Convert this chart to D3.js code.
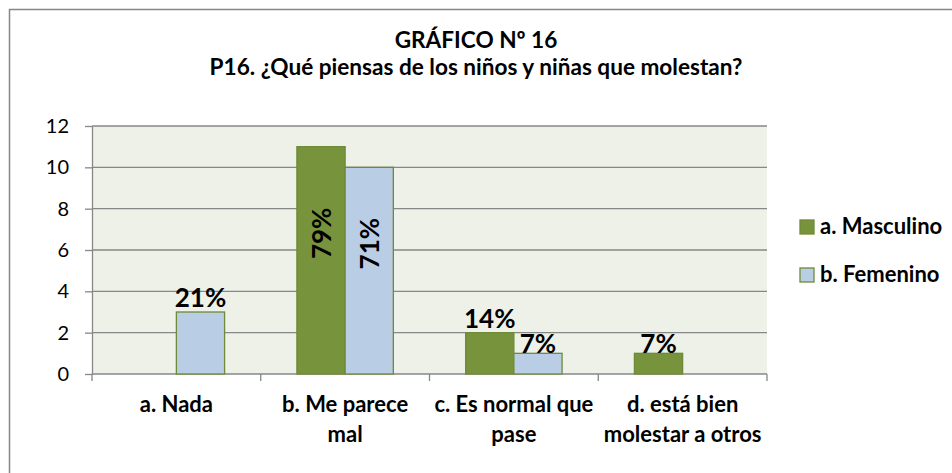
<!DOCTYPE html>
<html>
<head>
<meta charset="utf-8">
<script src="https://cdn.jsdelivr.net/npm/d3@7"></script>
<style>
  body { margin: 0; background: #fff; }
  svg { display: block; font-family: Lato, "Open Sans", sans-serif; }
</style>
</head>
<body>
<div id="chart"></div>
<script>
// Data
var categories = [["a. Nada"], ["b. Me parece", "mal"], ["c. Es normal que", "pase"], ["d. está bien", "molestar a otros"]];
var seriesNames = ["a. Masculino", "b. Femenino"];
var masculino = [0, 11, 2, 1];
var femenino = [3, 10, 1, 0];
var masculinoLabels = ["", "79%", "14%", "7%"];
var femeninoLabels = ["21%", "71%", "7%", ""];
var yTicks = [0, 2, 4, 6, 8, 10, 12];

var colors = {"a. Masculino": "#77933C", "b. Femenino": "#B9CDE5"};

var width = 952, height = 473;
var plot = {left: 92, right: 767, top: 126, bottom: 374};

var svg = d3.select("#chart").append("svg")
    .attr("width", width)
    .attr("height", height);

// chart border
svg.append("rect")
    .attr("x", 9.5).attr("y", 9.5)
    .attr("width", 980).attr("height", 500)
    .attr("fill", "#fff")
    .attr("stroke", "#868686")
    .attr("stroke-width", 1.5);

// title
var title = svg.append("text")
    .attr("text-anchor", "middle")
    .attr("font-weight", "bold")
    .attr("font-size", 22.6)
    .attr("fill", "#000");
title.append("tspan").attr("x", 476).attr("y", 48).text("GRÁFICO Nº 16");
title.append("tspan").attr("x", 476).attr("y", 75).text("P16. ¿Qué piensas de los niños y niñas que molestan?");

// scales
var catKeys = categories.map(function (d, i) { return i; });
var x = d3.scaleBand().domain(catKeys).range([plot.left, plot.right]).padding(0);
var gap = x.bandwidth() * 1.5 / 3.5;
var xs = d3.scaleBand().domain(seriesNames).range([gap / 2, x.bandwidth() - gap / 2]).padding(0);
var y = d3.scaleLinear().domain([0, 12]).range([plot.bottom, plot.top]);

// plot background
svg.append("rect")
    .attr("x", plot.left).attr("y", plot.top)
    .attr("width", plot.right - plot.left).attr("height", plot.bottom - plot.top)
    .attr("fill", "#EEF1E8");

// gridlines
svg.append("g").selectAll("line")
    .data(yTicks.filter(function (d) { return d > 0; }))
    .enter().append("line")
    .attr("x1", plot.left).attr("x2", plot.right)
    .attr("y1", function (d) { return y(d); })
    .attr("y2", function (d) { return y(d); })
    .attr("stroke", "#878787")
    .attr("stroke-width", 1.3);

// y axis
var yAxis = svg.append("g")
    .attr("transform", "translate(" + plot.left + ",0)")
    .call(d3.axisLeft(y).tickValues(yTicks).tickSize(7).tickSizeOuter(0).tickPadding(16));
yAxis.select(".domain").attr("stroke", "#878787").attr("stroke-width", 1.3);
yAxis.selectAll(".tick line").attr("stroke", "#878787").attr("stroke-width", 1.3);
yAxis.selectAll(".tick text")
    .attr("font-family", "Lato, sans-serif")
    .attr("font-size", 20)
    .attr("fill", "#000");

// x axis line and ticks between categories
var xAxis = svg.append("g");
xAxis.append("line")
    .attr("x1", plot.left).attr("x2", plot.right)
    .attr("y1", plot.bottom).attr("y2", plot.bottom)
    .attr("stroke", "#878787").attr("stroke-width", 1.3);
var boundaries = catKeys.map(function (k) { return x(k); }).concat([x.range()[1]]);
xAxis.selectAll(".xtick")
    .data(boundaries)
    .enter().append("line")
    .attr("class", "xtick")
    .attr("x1", function (d) { return d; }).attr("x2", function (d) { return d; })
    .attr("y1", plot.bottom).attr("y2", plot.bottom + 7)
    .attr("stroke", "#878787").attr("stroke-width", 1.3);

// category labels
var catText = xAxis.selectAll(".xlabel")
    .data(categories)
    .enter().append("text")
    .attr("class", "xlabel")
    .attr("text-anchor", "middle")
    .attr("font-weight", "bold")
    .attr("font-size", 22)
    .attr("fill", "#000");
catText.each(function (lines, i) {
    var t = d3.select(this);
    lines.forEach(function (line, j) {
        t.append("tspan")
            .attr("x", x(i) + x.bandwidth() / 2)
            .attr("y", 412 + j * 30)
            .text(line);
    });
});

// bars
var barData = [];
catKeys.forEach(function (i) {
    barData.push({cat: i, series: seriesNames[0], value: masculino[i], label: masculinoLabels[i]});
    barData.push({cat: i, series: seriesNames[1], value: femenino[i], label: femeninoLabels[i]});
});

svg.append("g").selectAll("rect")
    .data(barData.filter(function (d) { return d.value > 0; }))
    .enter().append("rect")
    .attr("x", function (d) { return x(d.cat) + xs(d.series); })
    .attr("y", function (d) { return y(d.value); })
    .attr("width", xs.bandwidth())
    .attr("height", function (d) { return y(0) - y(d.value); })
    .attr("fill", function (d) { return colors[d.series]; })
    .attr("stroke", "#6F8A38")
    .attr("stroke-width", 1.3);

// data labels
var labels = svg.append("g")
    .attr("font-weight", "bold")
    .attr("font-size", 26)
    .attr("fill", "#000");

barData.filter(function (d) { return d.label !== ""; }).forEach(function (d) {
    var cx = x(d.cat) + xs(d.series) + xs.bandwidth() / 2;
    if (d.value > 5) {
        // rotated label inside the tall bars
        var cy = (y(d.value) + y(0)) / 2 - 27;
        labels.append("text")
            .attr("text-anchor", "middle")
            .attr("dominant-baseline", "central")
            .attr("transform", "translate(" + cx + "," + cy + ") rotate(-90)")
            .text(d.label);
    } else {
        labels.append("text")
            .attr("text-anchor", "middle")
            .attr("x", cx)
            .attr("y", y(d.value) - (d.value > 1 ? 5 : 0))
            .text(d.label);
    }
});

// legend
var legend = svg.append("g")
    .attr("transform", "translate(800,220)");
var item = legend.selectAll("g")
    .data(seriesNames)
    .enter().append("g")
    .attr("transform", function (d, i) { return "translate(0," + (i * 48) + ")"; });
item.append("rect")
    .attr("width", 14).attr("height", 14)
    .attr("fill", function (d) { return colors[d]; })
    .attr("stroke", "#6F8A38")
    .attr("stroke-width", 1.3);
item.append("text")
    .attr("x", 20).attr("y", 14)
    .attr("font-weight", "bold")
    .attr("font-size", 22)
    .attr("fill", "#000")
    .text(function (d) { return d; });
</script>
</body>
</html>
